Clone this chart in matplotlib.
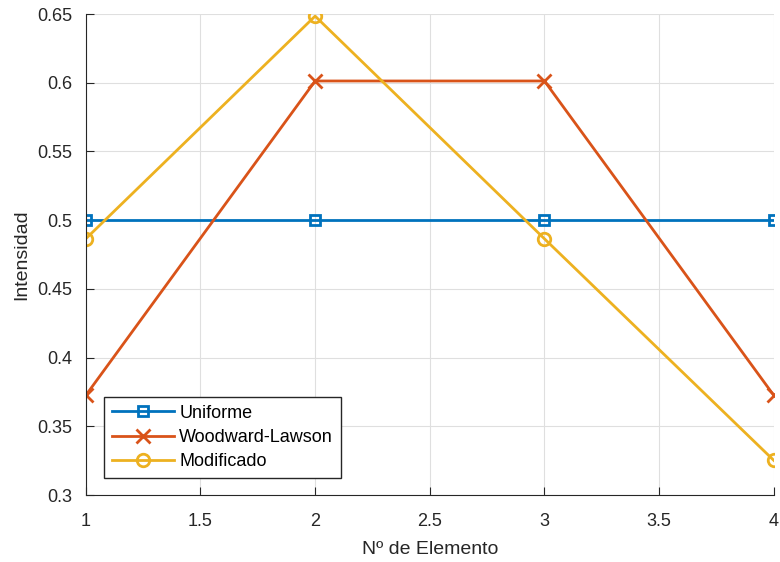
import matplotlib
matplotlib.use("Agg")
import matplotlib.pyplot as plt

plt.rcParams['font.family'] = ['Liberation Sans', 'DejaVu Sans']

elementos = [1, 2, 3, 4]
uniforme = [0.5, 0.5, 0.5, 0.5]
woodward = [0.3726, 0.6013, 0.6013, 0.3726]
modificado = [0.4865, 0.6485, 0.4865, 0.3253]

fig = plt.figure(figsize=(7.8, 5.62), dpi=100)
ax = fig.add_axes([0.110, 0.119, 0.882, 0.856])

ax.plot(elementos, uniforme, '-s', color='#0072BD', lw=2, ms=7, mfc='none', mew=2, label='Uniforme')
ax.plot(elementos, woodward, '-x', color='#D95319', lw=2, ms=10, mew=2, label='Woodward-Lawson')
ax.plot(elementos, modificado, '-o', color='#EDB120', lw=2, ms=9, mfc='none', mew=2, label='Modificado')

ax.set_xlim(1, 4)
ax.set_ylim(0.3, 0.65)
ax.set_xticks([1, 1.5, 2, 2.5, 3, 3.5, 4])
ax.set_xticklabels(['1', '1.5', '2', '2.5', '3', '3.5', '4'])
ax.set_yticks([0.3, 0.35, 0.4, 0.45, 0.5, 0.55, 0.6, 0.65])
ax.set_yticklabels(['0.3', '0.35', '0.4', '0.45', '0.5', '0.55', '0.6', '0.65'])
ax.grid(True, color='#dfdfdf', lw=0.8)
ax.set_axisbelow(True)
ax.spines['top'].set_visible(False)
ax.spines['right'].set_visible(False)
for s in ['left', 'bottom']:
    ax.spines[s].set_color('#262626')
ax.tick_params(direction='in', length=6, colors='#262626', labelsize=13)
ax.tick_params(axis='x', pad=13)
ax.tick_params(axis='y', pad=10)
ax.set_xlabel('Nº de Elemento', fontsize=14, color='#262626', labelpad=8)
ax.set_ylabel('Intensidad', fontsize=14, color='#262626', labelpad=5)

leg = ax.legend(loc='lower left', bbox_to_anchor=(0.027, 0.035), borderaxespad=0, fontsize=13,
                fancybox=False, edgecolor='#262626', framealpha=1,
                handlelength=3.4, borderpad=0.45, labelspacing=0.4, handletextpad=0.3)
leg.get_frame().set_linewidth(1)

fig.savefig('out.png', dpi=100)
